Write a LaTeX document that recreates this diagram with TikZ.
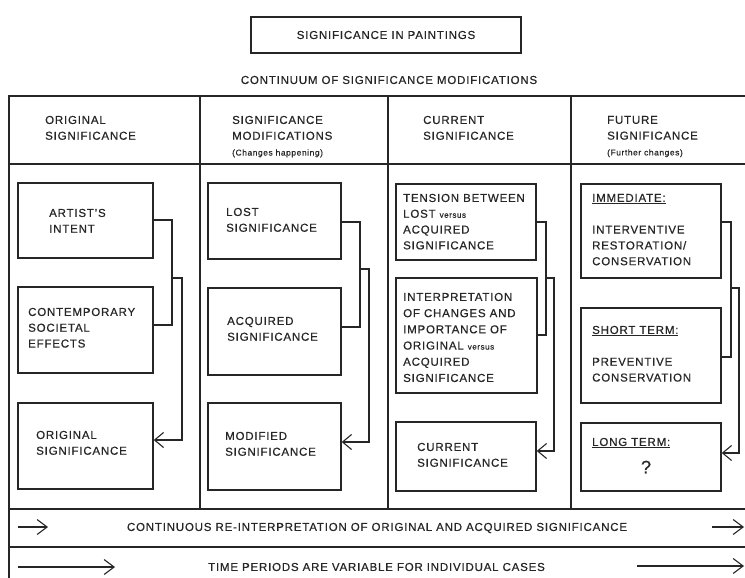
\documentclass[tikz,border=0pt]{standalone}
\usepackage{fontspec}
\setmainfont{Liberation Sans}[LetterSpace=7,FakeBold=0.5]
\usetikzlibrary{arrows.meta}

% a framed panel given by its corners (x1,y1,x2,y2)
\newcommand{\panel}[5]{%
  \node[box,minimum width={(#4-#2)*1pt},minimum height={(#5-#3)*1pt}]
    (#1) at ({(#2+#4)/2},{(#3+#5)/2}) {};}
\newcommand{\vsus}{{\fontsize{8}{10}\selectfont versus}}
\newcommand{\smallnote}[1]{{\fontsize{8.4}{10}\selectfont #1}}

\begin{document}
\begin{tikzpicture}[x=1pt,y=-1pt,
  rule/.style={draw=black!85,line width=1.25pt},
  box/.style={draw=black!85,line width=1.4pt,rectangle,inner sep=0pt},
  link/.style={draw=black!85,line width=1.1pt},
  feed/.style={link,-{Straight Barb[length=9pt,width=15pt,line width=1.1pt]}},
  flow/.style={link,-{Straight Barb[length=10pt,width=15pt,line width=1.1pt]}},
  label/.style={text=black!85,inner sep=0pt,anchor=north west,align=left,
                font=\fontsize{11.5}{15.8}\selectfont},
  caption/.style={text=black!85,inner sep=0pt,font=\fontsize{11.5}{14}\selectfont}]

\useasboundingbox (0,0) rectangle (745,578);
\clip (0,0) rectangle (745,578);
\fill[white] (0,0) rectangle (745,578);

% heading
\node[box,line width=1.2pt,minimum width=270pt,minimum height=36pt,caption]
  (title) at (386,35) {SIGNIFICANCE IN PAINTINGS};
\node[caption] (continuum) at (389,80) {CONTINUUM OF SIGNIFICANCE MODIFICATIONS};

% table frame
\draw[rule] (9,600) -- (9,96) -- (760,96);
\draw[rule] (9,164) -- (760,164);
\draw[rule] (9,509) -- (760,509);
\draw[rule] (9,547) -- (760,547);
\foreach \cx in {200,388,571} \draw[rule] (\cx,96) -- (\cx,509);

% column headings
\node[label] (h1) at (45,115.7) {ORIGINAL\\SIGNIFICANCE};
\node[label] (h2) at (232,115.7) {SIGNIFICANCE\\MODIFICATIONS\\\smallnote{(Changes happening)}};
\node[label] (h3) at (423,115.7) {CURRENT\\SIGNIFICANCE};
\node[label] (h4) at (607,115.7) {FUTURE\\SIGNIFICANCE\\\smallnote{(Further changes)}};

% panels
\panel{A1}{18}{183}{153}{258}
\panel{A2}{18}{287}{153}{373}
\panel{A3}{18}{403}{153}{489}
\panel{B1}{208}{183}{341}{259}
\panel{B2}{208}{288}{341}{375}
\panel{B3}{208}{403}{341}{490}
\panel{C1}{396}{184}{536}{260}
\panel{C2}{396}{278}{537}{393}
\panel{C3}{396}{422}{536}{491}
\panel{D1}{581}{184}{721}{278}
\panel{D2}{581}{308}{721}{403}
\panel{D3}{581}{423}{721}{491}

% panel texts
\node[label] (tA1) at (49,208.7) {ARTIST'S\\INTENT};
\node[label] (tA2) at (28,307.7) {CONTEMPORARY\\SOCIETAL\\EFFECTS};
\node[label] (tA3) at (36,430.7) {ORIGINAL\\SIGNIFICANCE};
\node[label] (tB1) at (226,207.7) {LOST\\SIGNIFICANCE};
\node[label] (tB2) at (227,316.7) {ACQUIRED\\SIGNIFICANCE};
\node[label] (tB3) at (225,431.7) {MODIFIED\\SIGNIFICANCE};
\node[label] (tC1) at (403,193.7) {TENSION BETWEEN\\LOST \vsus\\ACQUIRED\\SIGNIFICANCE};
\node[label,font=\fontsize{11.5}{16.2}\selectfont] (tC2) at (403,292.7)
  {INTERPRETATION\\OF CHANGES AND\\IMPORTANCE OF\\ORIGINAL \vsus\\ACQUIRED\\SIGNIFICANCE};
\node[label] (tC3) at (417,442.7) {CURRENT\\SIGNIFICANCE};
\node[label] (tD1) at (592,193.7) {\underline{IMMEDIATE:}\\[16pt]INTERVENTIVE\\RESTORATION/\\CONSERVATION};
\node[label] (tD2) at (592,325.7) {\underline{SHORT TERM:}\\[16pt]PREVENTIVE\\CONSERVATION};
\node[label] (tD3) at (592,437.7) {\underline{LONG TERM:}};
\node[text=black!85,inner sep=0pt,font=\fontsize{18}{20}\selectfont] (qD3) at (646,467) {?};

% brackets feeding the last panel of each column
\coordinate (mA) at (172,278);
\draw[link] (A1.east |- 0,220) -- (mA |- 0,220) -- (mA |- 0,325) -- (A2.east |- 0,325);
\draw[feed] (mA) -- (182,278) -- (182,440) -- (A3.east |- 0,440);

\coordinate (mB) at (360,269);
\draw[link] (B1.east |- 0,222) -- (mB |- 0,222) -- (mB |- 0,327) -- (B2.east |- 0,327);
\draw[feed] (mB) -- (369,269) -- (369,442) -- (B3.east |- 0,442);

\coordinate (mC) at (546,278);
\draw[link] (C1.east |- 0,222) -- (mC |- 0,222) -- (mC |- 0,335) -- (C2.east |- 0,335);
\draw[feed] (mC) -- (554,278) -- (554,451) -- (C3.east |- 0,451);

\coordinate (mD) at (731,288);
\draw[link] (D1.east |- 0,222) -- (mD |- 0,222) -- (mD |- 0,357) -- (D2.east |- 0,357);
\draw[feed] (mD) -- (739,288) -- (739,453) -- (D3.east |- 0,453);

% bottom rows
\node[caption] (cont) at (377,528) {CONTINUOUS RE-INTERPRETATION OF ORIGINAL AND ACQUIRED SIGNIFICANCE};
\node[caption] (time) at (376.5,567) {TIME PERIODS ARE VARIABLE FOR INDIVIDUAL CASES};
\coordinate (c0) at (18,527); \coordinate (c1) at (48,527);
\coordinate (c2) at (712,527); \coordinate (c3) at (744,527);
\coordinate (t0) at (18,567); \coordinate (t1) at (115,567);
\coordinate (t2) at (637,566); \coordinate (t3) at (744,566);
\draw[flow] (c0) -- (c1);
\draw[flow] (c2) -- (c3);
\draw[flow] (t0) -- (t1);
\draw[flow] (t2) -- (t3);
\end{tikzpicture}
\end{document}
